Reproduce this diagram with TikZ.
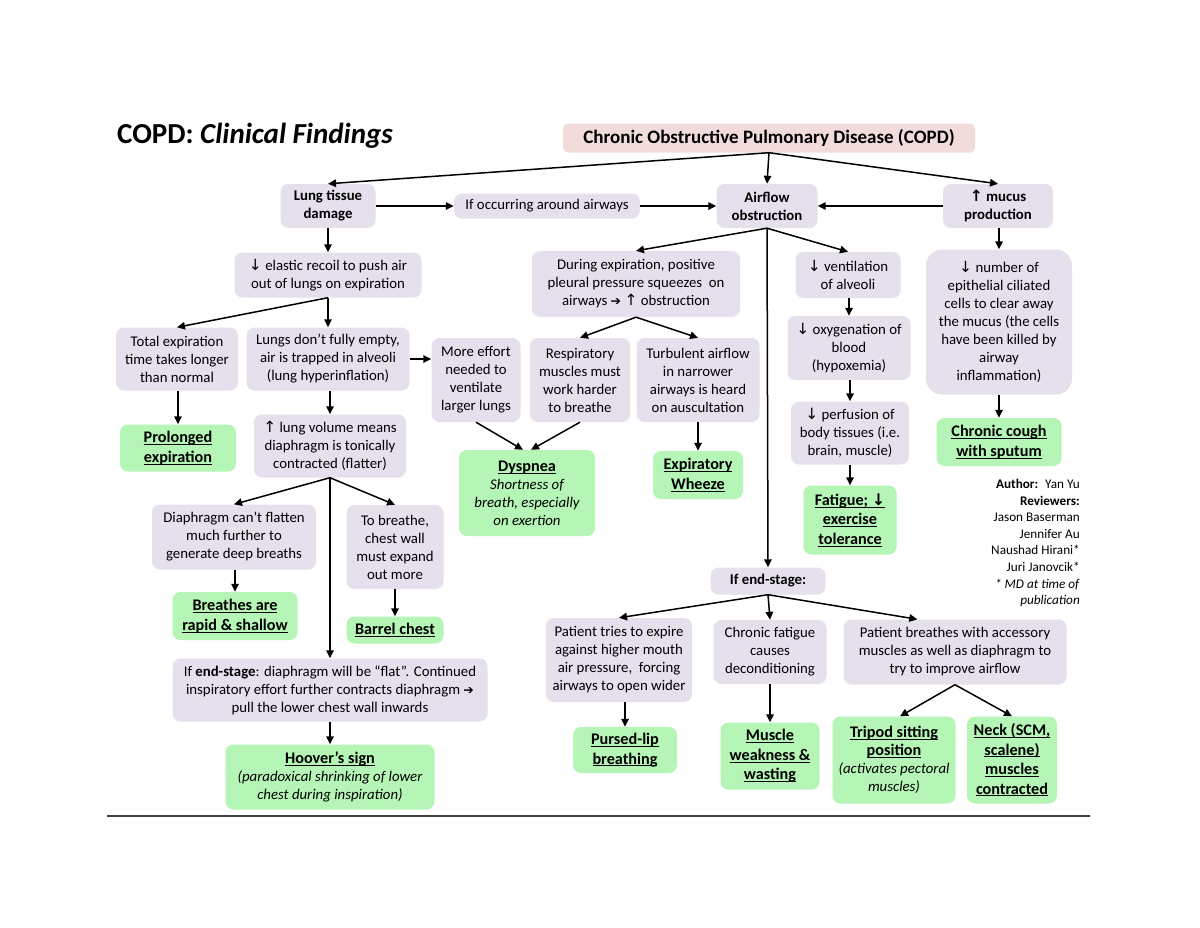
\documentclass[tikz,border=0pt]{standalone}
\usepackage{fontspec}
\setmainfont{Carlito}
\newfontfamily\symf{DejaVu Sans}
\usetikzlibrary{arrows.meta}
\definecolor{lav}{HTML}{E5E0EC}
\definecolor{grn}{HTML}{B5F5B5}
\definecolor{pnk}{HTML}{F2DCDB}
\newcommand\upa{{\symf\fontsize{15.5}{14}\selectfont ↑}}
\newcommand\dna{{\symf\fontsize{15.5}{14}\selectfont ↓}}
\newcommand\ria{{\symf\fontsize{12.5}{14}\selectfont ➔}}
\newcommand\hd[1]{{\bfseries\setbox0=\hbox{#1}\rlap{\rule[-2.4pt]{\wd0}{1pt}}\box0}}
\newcommand\bodyfs{\fontsize{14.8}{18}\selectfont}
\newcommand\headfs{\fontsize{16.2}{19.5}\selectfont}
\tikzset{
  box/.style={rounded corners=8pt, align=center, inner sep=2pt, font=\bodyfs},
  lv/.style={box, fill=lav},
  gr/.style={box, fill=grn},
  ar/.style={line width=1.5pt, -{Triangle[length=8pt,width=7.5pt]}},
  ln/.style={line width=1.5pt}
}
\begin{document}
\begin{tikzpicture}[x=1pt,y=-1pt]
\fill[white] (0,0) rectangle (1200,927);
\useasboundingbox (0,0) rectangle (1200,927);

\node[anchor=base west, inner sep=0pt, font=\fontsize{29}{34}\selectfont] (title) at (117,143) {\textbf{COPD:} \textbf{\itshape Clinical Findings}};

\node[box, fill=pnk, rounded corners=5pt, minimum width=412pt, minimum height=29pt, font=\fontsize{19}{22}\selectfont\bfseries] (copd) at (769,138) {Chronic Obstructive Pulmonary Disease (COPD)};

\node[lv, minimum width=95pt, minimum height=44pt, font=\bodyfs\bfseries] (lung) at (328,206) {Lung tissue\\damage};
\node[lv, minimum width=186pt, minimum height=25pt] (occur) at (547,206) {If occurring around airways};
\node[lv, minimum width=101pt, minimum height=44pt, font=\bodyfs\bfseries] (air) at (767,206) {Airflow\\obstruction};
\node[lv, minimum width=110pt, minimum height=44pt, font=\bodyfs\bfseries] (mucus) at (998,206) {{\symf\bfseries\fontsize{15.5}{14}\selectfont ↑} mucus\\production};

\node[lv, minimum width=187pt, minimum height=45pt] (elastic) at (328,275) {\dna\ elastic recoil to push air\\out of lungs on expiration};
\node[lv, minimum width=122pt, minimum height=63pt] (total) at (177,359) {Total expiration\\time takes longer\\than normal};
\node[lv, minimum width=163pt, minimum height=63pt] (lungs) at (328,359) {Lungs don't fully empty,\\air is trapped in alveoli\\(lung hyperinflation)};
\node[gr, minimum width=116pt, minimum height=47pt, font=\headfs] (prolong) at (178,448) {\hd{Prolonged}\\\hd{expiration}};
\node[lv, minimum width=152pt, minimum height=63pt] (volume) at (330,446) {\upa\ lung volume means\\diaphragm is tonically\\contracted (flatter)};
\node[lv, minimum width=89pt, minimum height=84pt] (effort) at (476,380) {More effort\\needed to\\ventilate\\larger lungs};

\node[lv, minimum width=208pt, minimum height=66pt] (during) at (636,284) {During expiration, positive\\pleural pressure squeezes~ on\\airways \ria\ \upa\ obstruction};
\node[lv, minimum width=100pt, minimum height=84pt] (resp) at (580,380) {Respiratory\\muscles must\\work harder\\to breathe};
\node[lv, minimum width=123pt, minimum height=84pt] (turb) at (698,380) {Turbulent airflow\\in narrower\\airways is heard\\on auscultation};
\node[gr, minimum width=136pt, minimum height=86pt] (dysp) at (527,493) {{\headfs\hd{Dyspnea}}\\\itshape Shortness of\\\itshape breath, especially\\\itshape on exertion};
\node[gr, minimum width=90pt, minimum height=48pt, font=\headfs] (wheeze) at (698,475) {\hd{Expiratory}\\\hd{Wheeze}};

\node[lv, minimum width=105pt, minimum height=46pt] (vent) at (848,275) {\dna\ ventilation\\of alveoli};
\node[lv, minimum width=123pt, minimum height=64pt] (oxy) at (849,348) {\dna\ oxygenation of\\blood\\(hypoxemia)};
\node[lv, minimum width=118pt, minimum height=63pt] (perf) at (850,433) {\dna\ perfusion of\\body tissues (i.e.\\brain, muscle)};
\node[gr, minimum width=93pt, minimum height=69pt, font=\headfs] (fatigue) at (850,520) {\hd{Fatigue; {\symf\fontsize{16}{15}\selectfont ↓}}\\\hd{exercise}\\\hd{tolerance}};

\node[lv, rounded corners=16pt, minimum width=146pt, minimum height=145pt] (cilia) at (999,322) {\dna\ number of\\epithelial ciliated\\cells to clear away\\the mucus (the cells\\have been killed by\\airway\\inflammation)};
\node[gr, minimum width=125pt, minimum height=48pt, font=\headfs] (cough) at (999,442) {\hd{Chronic cough}\\\hd{with sputum}};

\node[anchor=north east, align=right, inner sep=0pt, font=\fontsize{13.2}{16.6}\selectfont] (author) at (1080,479) {\textbf{Author:}~ Yan Yu\\\textbf{Reviewers:}\\Jason Baserman\\Jennifer Au\\Naushad Hirani*\\Juri Janovcik*\\\textit{* MD at time of}\\\textit{publication}};

\node[lv, minimum width=164pt, minimum height=65pt] (diaph) at (234,537) {Diaphragm can’t flatten\\much further to\\generate deep breaths};
\node[lv, minimum width=97pt, minimum height=84pt] (tob) at (395,547) {To breathe,\\chest wall\\must expand\\out more};
\node[gr, minimum width=125pt, minimum height=48pt, font=\headfs] (rapid) at (235,616) {\hd{Breathes are}\\\hd{rapid \& shallow}};
\node[gr, minimum width=97pt, minimum height=27pt, font=\headfs] (barrel) at (395,630) {\hd{Barrel chest}};
\node[lv, minimum width=315pt, minimum height=63pt] (endL) at (330,690) {If \textbf{end-stage}: diaphragm will be “flat”. Continued\\inspiratory effort further contracts diaphragm \ria{}\\pull the lower chest wall inwards};
\node[gr, minimum width=209pt, minimum height=65pt] (hoover) at (330,777) {{\headfs\hd{Hoover’s sign}}\\\itshape (paradoxical shrinking of lower\\\itshape chest during inspiration)};

\node[lv, minimum width=115pt, minimum height=27pt, font=\bodyfs\bfseries] (endR) at (768,581) {If end-stage:};
\node[lv, minimum width=146pt, minimum height=84pt] (tries) at (619,660) {Patient tries to expire\\against higher mouth\\air pressure,~ forcing\\airways to open wider};
\node[lv, minimum width=113pt, minimum height=64pt] (chf) at (770,652) {Chronic fatigue\\causes\\deconditioning};
\node[lv, minimum width=223pt, minimum height=65pt] (acc) at (955,652) {Patient breathes with accessory\\muscles as well as diaphragm to\\try to improve airflow};
\node[gr, minimum width=104pt, minimum height=46pt, font=\headfs] (pursed) at (625,750) {\hd{Pursed-lip}\\\hd{breathing}};
\node[gr, minimum width=99pt, minimum height=67pt, font=\headfs] (weak) at (770,756) {\hd{Muscle}\\\hd{weakness \&}\\\hd{wasting}};
\node[gr, minimum width=123pt, minimum height=87pt] (tripod) at (894,760) {{\headfs\hd{Tripod sitting}}\\{\headfs\hd{position}}\\\itshape (activates pectoral\\\itshape muscles)};
\node[gr, minimum width=90pt, minimum height=87pt, font=\headfs] (neck) at (1012,760) {\hd{Neck (SCM,}\\\hd{scalene)}\\\hd{muscles}\\\hd{contracted}};

% connectors
\draw[ar] (copd.south) -- (lung.north);
\draw[ar] (copd.south) -- (air.north);
\draw[ar] (copd.south) -- (mucus.north);
\draw[ar] (lung.east) -- (occur.west);
\draw[ar] (occur.east) -- (air.west);
\draw[ar] (mucus.west) -- (air.east);
\draw[ar] (lung.south) -- (elastic.north);
\draw[ar] (elastic.south) -- (total.north);
\draw[ar] (elastic.south) -- (lungs.north);
\draw[ar] (total.south -| prolong.north) -- (prolong.north);
\draw[ar] (lungs.south -| volume.north) -- (volume.north);
\draw[ar] (lungs.east) -- (lungs.east -| effort.west);
\draw[ar] (air.south) -- (during.north);
\draw[ar] (air.south) -- (vent.north);
\draw[ar] (air.south) -- (endR.north);
\draw[ar] (during.south) -- (resp.north);
\draw[ar] (during.south) -- (turb.north);
\draw[ar] (effort.south) -- ([xshift=-4pt]dysp.north);
\draw[ar] (resp.south) -- ([xshift=4pt]dysp.north);
\draw[ar] (turb.south) -- (wheeze.north);
\draw[ar] (vent.south -| oxy.north) -- (oxy.north);
\draw[ar] (oxy.south -| perf.north) -- (perf.north);
\draw[ar] (perf.south) -- (fatigue.north);
\draw[ar] (mucus.south -| cilia.north) -- (cilia.north);
\draw[ar] (cilia.south) -- (cough.north);
\draw[ar] (volume.south) -- (diaph.north);
\draw[ar] (volume.south) -- (tob.north);
\draw[ar] (volume.south) -- (endL.north);
\draw[ar] (diaph.south -| rapid.north) -- (rapid.north);
\draw[ar] (tob.south) -- (barrel.north);
\draw[ar] (endL.south) -- (hoover.north);
\draw[ar] (endR.south) -- (tries.north);
\draw[ar] (endR.south) -- (chf.north);
\draw[ar] (endR.south) -- ([xshift=74pt]acc.north west);
\draw[ar] (tries.south -| pursed.north) -- (pursed.north);
\draw[ar] (chf.south) -- (weak.north);
\draw[ar] (acc.south) -- ([xshift=6pt]tripod.north);
\draw[ar] (acc.south) -- (neck.north);

\coordinate (ruleL) at (107,816);
\coordinate (ruleR) at (1090,816);
\draw[line width=1.6pt, black!75] (ruleL) -- (ruleR);
\end{tikzpicture}
\end{document}
